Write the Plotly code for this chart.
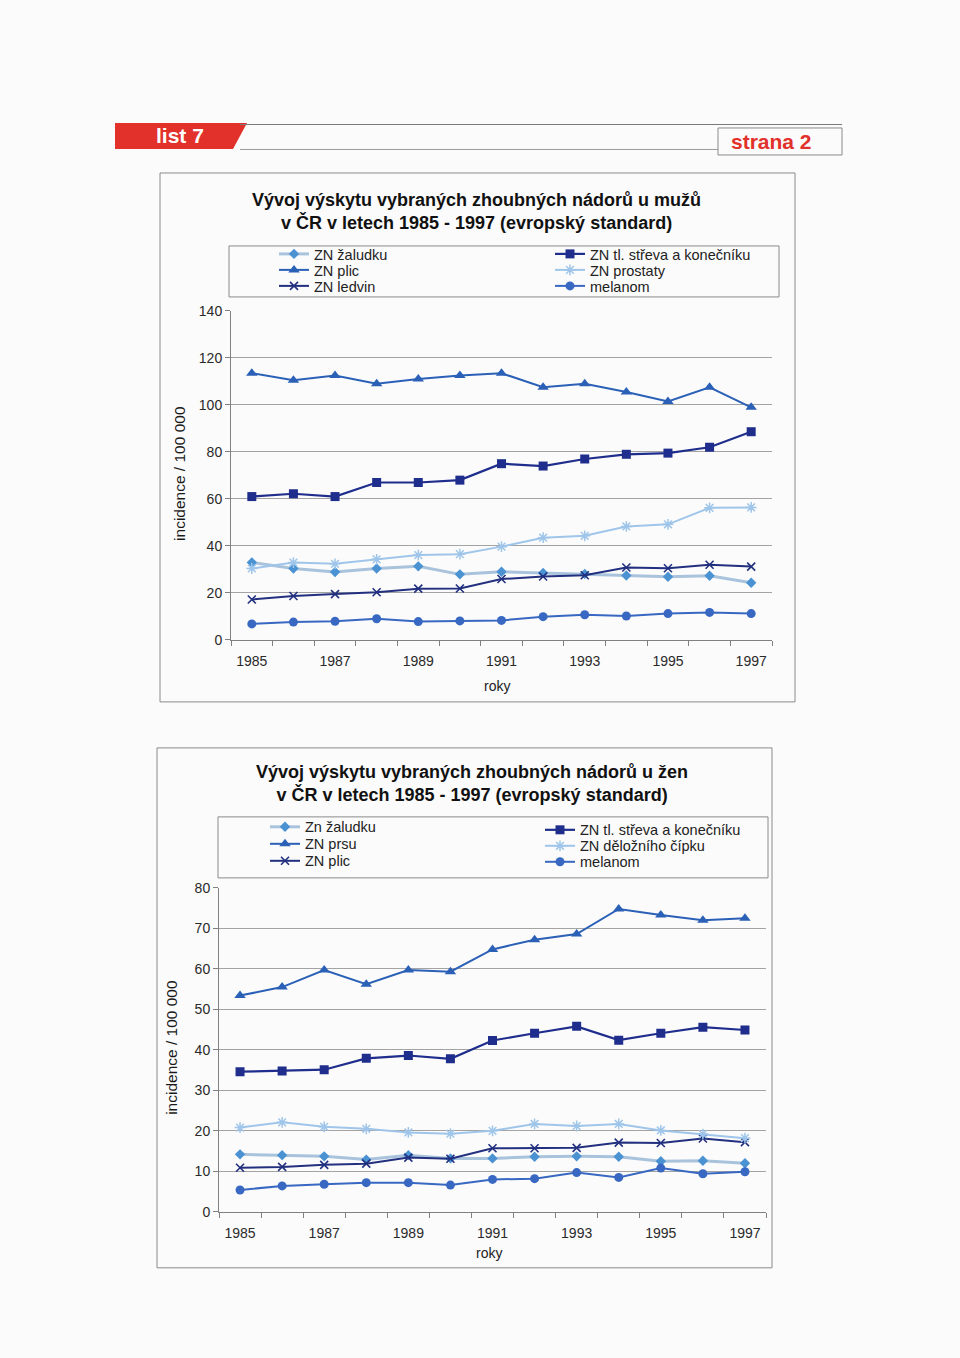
import plotly.graph_objects as go

W, H = 960, 1358

years = list(range(1985, 1998))
odd_years = [1985, 1987, 1989, 1991, 1993, 1995, 1997]
odd_labels = [str(y) for y in odd_years]

# Men (incidence / 100 000)
m_zaludek = [33.0, 30.4, 28.9, 30.4, 31.3, 27.9, 29.0, 28.5, 28.1, 27.4, 26.9, 27.3, 24.3]
m_plice = [113.5, 110.5, 112.5, 109.0, 111.0, 112.5, 113.5, 107.5, 109.0, 105.5, 101.5, 107.5, 99.0]
m_ledviny = [17.2, 18.7, 19.5, 20.3, 21.8, 21.9, 25.9, 27.0, 27.5, 30.8, 30.5, 32.0, 31.2]
m_strevo = [61.0, 62.2, 61.0, 67.0, 67.0, 68.0, 75.0, 74.0, 77.0, 79.0, 79.5, 82.0, 88.6]
m_prostata = [30.4, 32.9, 32.4, 34.3, 36.1, 36.5, 39.7, 43.5, 44.3, 48.3, 49.2, 56.2, 56.4]
m_melanom = [6.8, 7.6, 7.9, 9.0, 7.8, 8.1, 8.3, 9.9, 10.7, 10.2, 11.2, 11.7, 11.2]

# Women (incidence / 100 000)
w_zaludek = [14.2, 14.0, 13.7, 12.9, 14.0, 13.2, 13.2, 13.6, 13.7, 13.6, 12.5, 12.6, 12.0]
w_prs = [53.4, 55.5, 59.7, 56.2, 59.7, 59.3, 64.8, 67.2, 68.6, 74.8, 73.3, 72.0, 72.5]
w_plice = [10.9, 11.1, 11.6, 11.9, 13.4, 13.1, 15.7, 15.7, 15.8, 17.1, 17.0, 18.1, 17.2]
w_strevo = [34.6, 34.8, 35.1, 37.9, 38.6, 37.8, 42.3, 44.1, 45.8, 42.4, 44.1, 45.6, 44.9]
w_cipek = [20.8, 22.1, 21.0, 20.5, 19.6, 19.3, 20.0, 21.7, 21.2, 21.7, 20.1, 19.2, 18.2]
w_melanom = [5.4, 6.4, 6.8, 7.2, 7.2, 6.6, 8.0, 8.2, 9.7, 8.5, 10.8, 9.4, 9.9]

FONT = "Liberation Sans, Arial, sans-serif"

C_ZAL_LINE = "#a9c3dd"
C_ZAL_MARK = "#4a92d2"
C_PLIC = "#2b60b7"
C_LEDV = "#22307f"
C_STREVO = "#1f2d8c"
C_PROST = "#9fc6ea"
C_MELAN = "#3868c2"

# observed page mapping: rendered_y = 8 + 0.9884 * figure_y
Y_OFF, Y_SC = 8.0, 1358.0 / 1374.0


def px(x):
    return x / W


def py(y):
    return 1 - ((y - Y_OFF) / Y_SC) / H


fig = go.Figure()

legend_layouts = {}
leg_counter = [0]


def add_series(name, xs, ys, xaxis, yaxis, line_color, line_width, marker, leg_pos):
    leg_counter[0] += 1
    lname = "legend" if leg_counter[0] == 1 else f"legend{leg_counter[0]}"
    fig.add_trace(go.Scatter(
        x=xs, y=ys, name=name, mode="lines+markers",
        xaxis=xaxis, yaxis=yaxis,
        line=dict(color=line_color, width=line_width),
        marker=marker, legend=lname, showlegend=True,
    ))
    tx, ty = leg_pos
    legend_layouts[lname] = dict(
        x=px(tx - 40), xanchor="left", y=py(ty), yanchor="middle",
        bgcolor="rgba(0,0,0,0)", borderwidth=0, itemwidth=30,
        font=dict(family=FONT, size=14.5, color="#222"),
    )


# ---------------- Chart 1 (men) ----------------
r1 = [254, 270, 286]
add_series("ZN žaludku", years, m_zaludek, "x", "y", C_ZAL_LINE, 3,
           dict(symbol="diamond", size=8, color=C_ZAL_MARK), (314, r1[0]))
add_series("ZN plic", years, m_plice, "x", "y", C_PLIC, 2,
           dict(symbol="triangle-up", size=10, color=C_PLIC), (314, r1[1]))
add_series("ZN ledvin", years, m_ledviny, "x", "y", C_LEDV, 2,
           dict(symbol="x-thin-open", size=8, color=C_LEDV, line=dict(width=1.6, color=C_LEDV)), (314, r1[2]))
add_series("ZN tl. střeva a konečníku", years, m_strevo, "x", "y", C_STREVO, 2.2,
           dict(symbol="square", size=9, color=C_STREVO), (590, r1[0]))
add_series("ZN prostaty", years, m_prostata, "x", "y", C_PROST, 2,
           dict(symbol="asterisk-open", size=9, color=C_PROST, line=dict(width=1.5, color=C_PROST)), (590, r1[1]))
add_series("melanom", years, m_melanom, "x", "y", C_MELAN, 2,
           dict(symbol="circle", size=9, color=C_MELAN), (590, r1[2]))

# ---------------- Chart 2 (women) ----------------
add_series("Zn žaludku", years, w_zaludek, "x2", "y2", C_ZAL_LINE, 3,
           dict(symbol="diamond", size=8, color=C_ZAL_MARK), (305, 827))
add_series("ZN prsu", years, w_prs, "x2", "y2", C_PLIC, 2,
           dict(symbol="triangle-up", size=10, color=C_PLIC), (305, 844))
add_series("ZN plic", years, w_plice, "x2", "y2", C_LEDV, 2,
           dict(symbol="x-thin-open", size=8, color=C_LEDV, line=dict(width=1.6, color=C_LEDV)), (305, 861))
add_series("ZN tl. střeva a konečníku", years, w_strevo, "x2", "y2", C_STREVO, 2.2,
           dict(symbol="square", size=9, color=C_STREVO), (580, 830))
add_series("ZN děložního čípku", years, w_cipek, "x2", "y2", C_PROST, 2,
           dict(symbol="asterisk-open", size=9, color=C_PROST, line=dict(width=1.5, color=C_PROST)), (580, 846))
add_series("melanom", years, w_melanom, "x2", "y2", C_MELAN, 2,
           dict(symbol="circle", size=9, color=C_MELAN), (580, 862))

GRID = "#a3a3a3"
AXIS = "#808080"
TICKF = dict(family=FONT, size=14, color="#2a2a2a")


def xaxis_cfg(l, r, anchor):
    return dict(
        domain=[px(l), px(r)], anchor=anchor, range=[1984.5, 1997.5],
        tickmode="array", tickvals=odd_years, ticktext=odd_labels,
        ticks="", showgrid=False, zeroline=False,
        showline=True, linecolor=AXIS, linewidth=1,
        tickfont=TICKF, ticklabelstandoff=8,
        minor=dict(tickmode="linear", tick0=1984.5, dtick=1, ticks="outside",
                   ticklen=5, tickcolor=AXIS, showgrid=False),
        fixedrange=True,
    )


def yaxis_cfg(top, bottom, rmax, dt, anchor):
    return dict(
        domain=[py(bottom), py(top)], anchor=anchor, range=[0, rmax],
        dtick=dt, tick0=0, showgrid=True, gridcolor=GRID, gridwidth=1,
        zeroline=False, showline=True, linecolor=AXIS, linewidth=1,
        ticks="outside", ticklen=5, tickcolor=AXIS, tickfont=TICKF,
        fixedrange=True,
    )


shapes = []


def rect(x0, y0, x1, y1, color="#8a8a8a", width=1, fill=None):
    shapes.append(dict(type="rect", xref="paper", yref="paper",
                       x0=px(x0), x1=px(x1), y0=py(y1), y1=py(y0),
                       line=dict(color=color, width=width),
                       fillcolor=fill if fill else "rgba(0,0,0,0)", layer="below"))


def line(x0, y0, x1, y1, color="#8a8a8a", width=1):
    shapes.append(dict(type="line", xref="paper", yref="paper",
                       x0=px(x0), x1=px(x1), y0=py(y0), y1=py(y1),
                       line=dict(color=color, width=width), layer="below"))


# Header bar
shapes.append(dict(type="path", xref="paper", yref="paper",
                   path=f"M{px(115)},{py(123)} L{px(247)},{py(123)} L{px(233)},{py(149)} L{px(115)},{py(149)} Z",
                   fillcolor="#e2312a", line=dict(width=0), layer="below"))
line(240, 124.5, 842, 124.5, "#7a7a7a", 1.2)
line(240, 149.5, 718, 149.5, "#9a9a9a", 1)
rect(718, 128, 842, 155, "#8a8a8a", 1)

# Chart frames
rect(160, 173, 795, 702)
rect(157, 748, 772, 1268)
# Legend boxes
rect(229, 246, 779, 297)
rect(218, 817, 768, 878)


def ann(text, x, y, size, color="#222", angle=0, bold=False):
    return dict(text=(f"<b>{text}</b>" if bold else text), x=px(x), y=py(y),
                xref="paper", yref="paper", xanchor="center", yanchor="middle",
                showarrow=False, textangle=angle, align="center",
                font=dict(family=FONT, size=size, color=color))


annotations = [
    ann("list 7", 180, 136, 21, "white", bold=True),
    ann("strana 2", 771, 142, 21, "#e2312a", bold=True),
    ann("Vývoj výskytu vybraných zhoubných nádorů u mužů<br>v ČR v letech 1985 - 1997 (evropský standard)",
        476, 212, 18, "#111", bold=True),
    ann("Vývoj výskytu vybraných zhoubných nádorů u žen<br>v ČR v letech 1985 - 1997 (evropský standard)",
        472, 784, 18, "#111", bold=True),
    ann("roky", 497, 686, 14),
    ann("roky", 489, 1253, 14),
    ann("incidence / 100 000", 180, 474, 15.5, "#1a1a1a", angle=-90),
    ann("incidence / 100 000", 172, 1048, 15.5, "#1a1a1a", angle=-90),
]

layout = dict(
    width=W, height=H, margin=dict(l=0, r=0, t=0, b=0),
    paper_bgcolor="#fbfbfb", plot_bgcolor="rgba(0,0,0,0)",
    font=dict(family=FONT, size=14, color="#222"),
    xaxis=xaxis_cfg(231, 772, "y"),
    yaxis=yaxis_cfg(311, 640, 140, 20, "x"),
    xaxis2=xaxis_cfg(219, 766, "y2"),
    yaxis2=yaxis_cfg(888, 1212, 80, 10, "x2"),
    shapes=shapes, annotations=annotations,
)
layout.update(legend_layouts)
fig.update_layout(**layout)

fig.write_html("out.html")
